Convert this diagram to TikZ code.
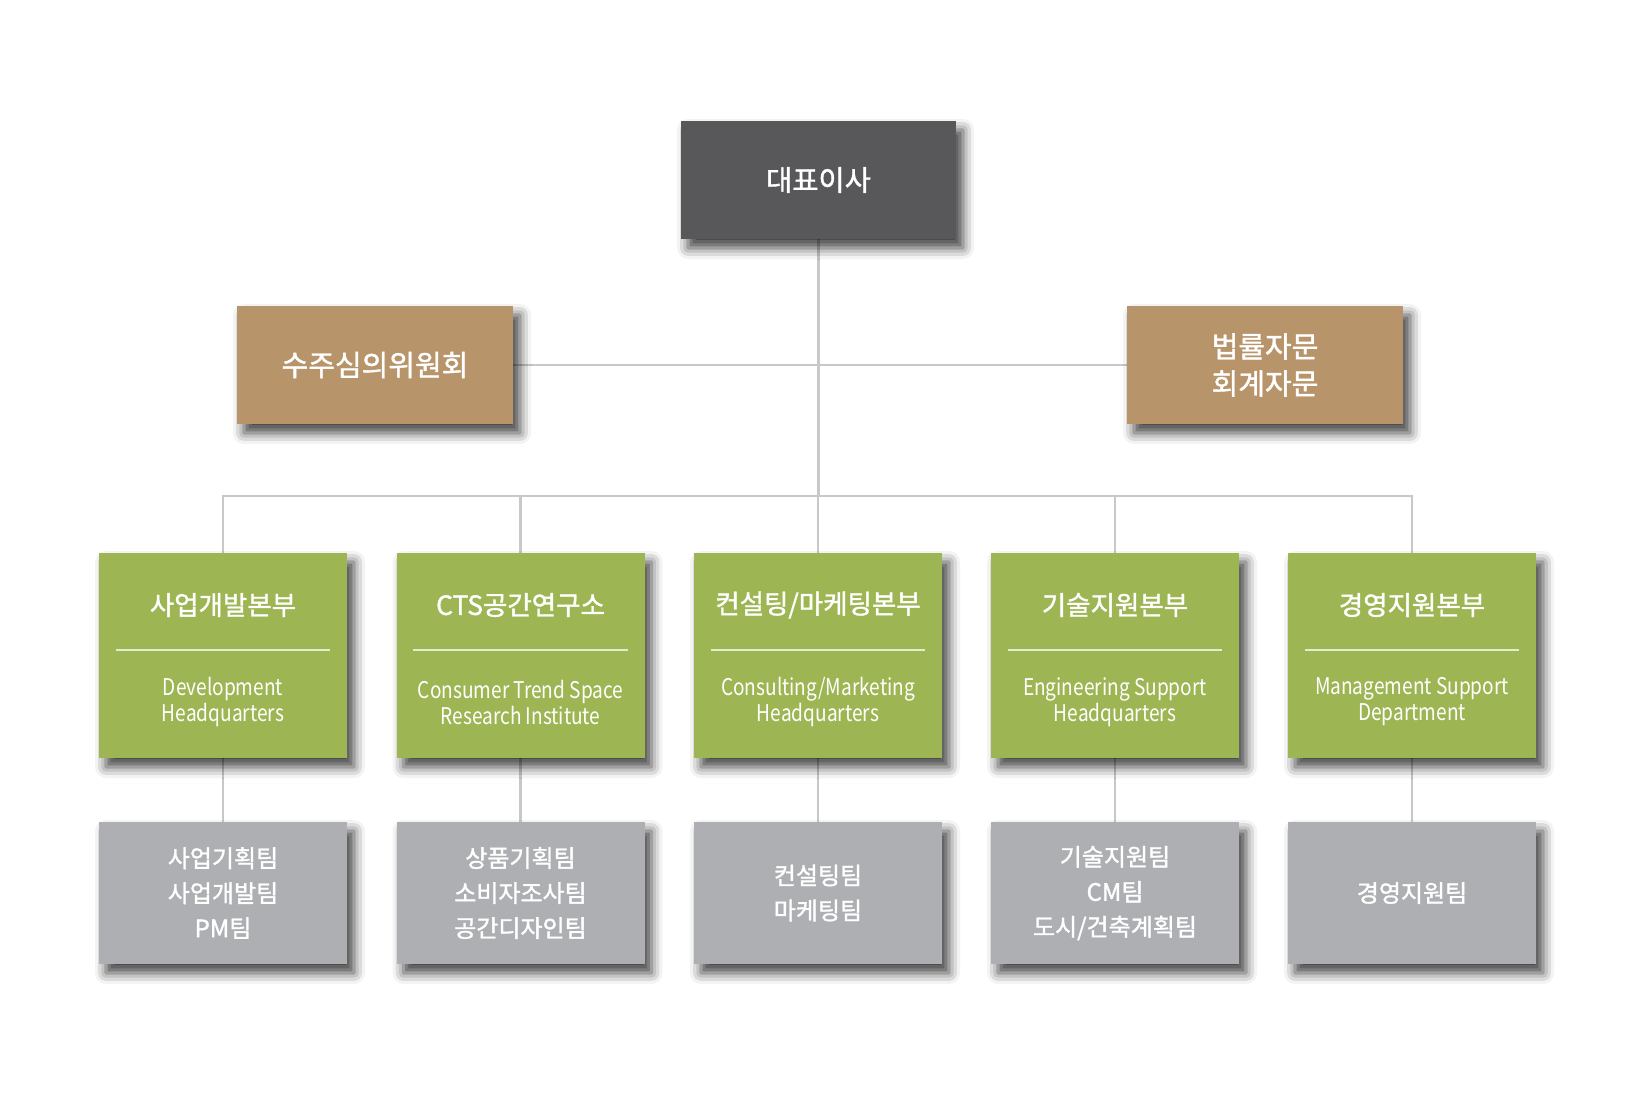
\documentclass[tikz,border=0pt]{standalone}
\usepackage{fontspec}
\setmainfont{Noto Sans CJK KR}
\newfontfamily\kfont{Noto Sans CJK KR}[FakeBold=1.4]
\newfontfamily\engfont{Noto Sans CJK KR}[FakeStretch=0.83]
\usetikzlibrary{shadows.blur}
\pgfdeclarelayer{background}
\pgfsetlayers{background,main}
\definecolor{ceoC}{HTML}{58585A}
\definecolor{tanC}{HTML}{B8946A}
\definecolor{greenC}{HTML}{9DB552}
\definecolor{grayC}{HTML}{AEAFB2}
\definecolor{lineC}{HTML}{C8C8C8}
\definecolor{divC}{HTML}{E4ECCB}
\begin{document}
\begin{tikzpicture}[x=1pt,y=-1pt,
  box/.style={rectangle, inner sep=0pt, draw=none, text=white, align=center,
    blur shadow={shadow xshift=7pt, shadow yshift=-9pt, shadow blur radius=11pt, shadow opacity=75}},
  ceobox/.style={box, fill=ceoC, minimum width=275pt, minimum height=118pt,
    font=\kfont\fontsize{28.5}{37}\selectfont},
  tanbox/.style={box, fill=tanC, minimum width=276pt, minimum height=118pt,
    font=\kfont\fontsize{29}{37}\selectfont},
  greenbox/.style={box, fill=greenC, minimum width=248pt, minimum height=205pt},
  graybox/.style={box, fill=grayC, minimum width=248pt, minimum height=142pt,
    font=\kfont\fontsize{24}{35}\selectfont},
  ktitle/.style={text=white, inner sep=0pt, font=\kfont\fontsize{26.5}{30}\selectfont},
  etext/.style={text=white, inner sep=0pt, align=center, font=\engfont\fontsize{23}{26}\selectfont},
  conn/.style={draw=lineC, line width=2.6pt},
  divider/.style={draw=divC, line width=1.6pt}
]
\useasboundingbox (0,0) rectangle (1643,1110);
\coordinate (busY) at (818,496);

\node[ceobox] (ceo) at (818.5,180) {대표이사};
\node[tanbox] (com) at (375,365) {수주심의위원회};
\node[tanbox] (law) at (1265,365) {법률자문\\회계자문};

\foreach \i/\x in {1/223,2/520.5,3/818,4/1115,5/1412}{
  \node[greenbox] (g\i) at (\x,655.5) {};
  \draw[divider] ([xshift=17pt,yshift=-97pt]g\i.north west) -- ([xshift=-17pt,yshift=-97pt]g\i.north east);
}

\node[graybox] (t1) at (223,893) {사업기획팀\\사업개발팀\\PM팀};
\node[graybox] (t2) at (520.5,893) {상품기획팀\\소비자조사팀\\공간디자인팀};
\node[graybox] (t3) at (818,893) {컨설팅팀\\마케팅팀};
\node[graybox] (t4) at (1115,893) {기술지원팀\\CM팀\\도시/건축계획팀};
\node[graybox] (t5) at (1412,893) {경영지원팀};

\begin{pgfonlayer}{background}
\draw[conn] (ceo.south) -- (ceo.south |- busY);
\draw[conn] (com.east) -- (law.west);
\draw[conn] (g1.north) -- (g1.north |- busY) -- (g5.north |- busY) -- (g5.north);
\foreach \i in {2,3,4}{ \draw[conn] (g\i.north) -- (g\i.north |- busY); }
\foreach \i in {1,...,5}{ \draw[conn] (g\i.south) -- (t\i.north); }
\end{pgfonlayer}

\node[ktitle] (h1) at (223,605) {사업개발본부};
\node[ktitle] (h2) at (520.5,605) {CTS공간연구소};
\node[ktitle] (h3) at (818,605) {컨설팅/마케팅본부};
\node[ktitle] (h4) at (1115,605) {기술지원본부};
\node[ktitle] (h5) at (1412,605) {경영지원본부};

\node[etext] (e1) at (223,702) {Development\\Headquarters};
\node[etext] (e2) at (520.5,702) {Consumer Trend Space\\Research Institute};
\node[etext] (e3) at (818,702) {Consulting/Marketing\\Headquarters};
\node[etext] (e4) at (1115,702) {Engineering Support\\Headquarters};
\node[etext] (e5) at (1412,702) {Management Support\\Department};
\end{tikzpicture}
\end{document}
